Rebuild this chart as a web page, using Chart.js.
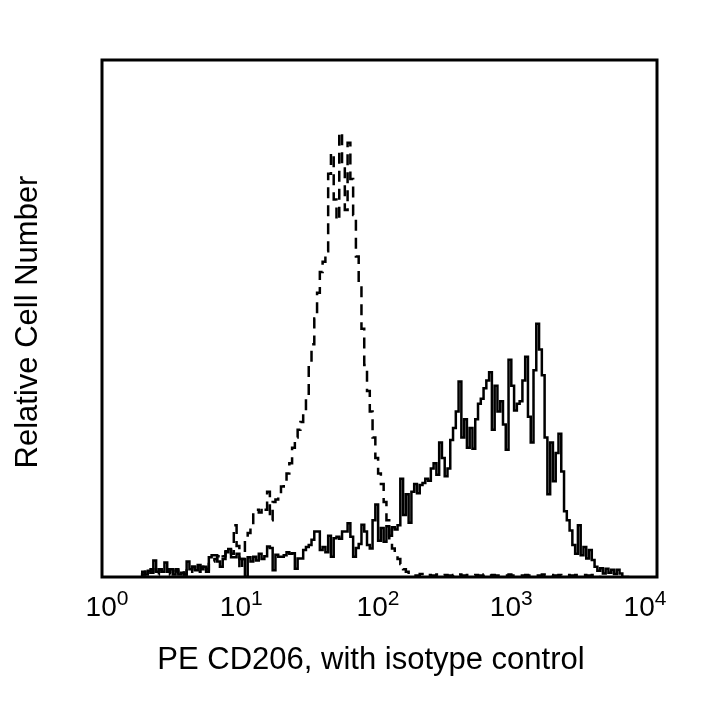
<!DOCTYPE html>
<html>
<head>
<meta charset="utf-8">
<script src="https://cdn.jsdelivr.net/npm/chart.js@4/dist/chart.umd.min.js"></script>
<style>
  body { margin: 0; background: #fff; }
  canvas { display: block; }
</style>
</head>
<body>
<canvas id="histogram" width="720" height="720"></canvas>
<script>
// Histogram channels: 200 channels across 4 log decades (50 per decade)
const startChannel = 14;

// Isotype control (dashed), counts per channel from channel 14
const isotypeCounts = [
  0, 0.5, 1, 0.5, 1.5, 1, 0.5, 1.5, 1, 0.8,
  1.5, 0.5, 1, 1.5, 0.8, 1.2, 0.5, 1.5, 1, 2,
  1.5, 1, 2, 2.5, 1.5, 2.5, 3, 3.5, 4, 4.5,
  4, 5, 5.5, 4.5, 10, 6, 1.5, 3.5, 7.5, 8.5,
  9.5, 13, 13, 12.5, 13.5, 13, 16.5, 11, 14.5, 15,
  15.5, 17.5, 18.5, 20, 22, 25, 27, 28.5, 30, 31.5,
  35, 41, 45, 50, 55, 59, 61, 63, 78, 82,
  73, 69, 86, 79, 71, 84, 77, 70, 62, 56,
  48, 41, 36, 32, 27, 23, 20, 18, 14.5, 11,
  7.5, 5.5, 4.5, 3.5, 2.5, 1.5, 1, 0.5, 0.4, 0.3,
  0.3, 0.6, 0.3, 0.3, 0.4, 0.3, 0.3, 0.5, 0.3, 0.3,
  0.4, 0.3, 0.3, 0.4, 0.3, 0.5, 0.3, 0.3, 0.4, 0.3,
  0.3, 0.4, 0.3, 0.3, 0.5, 0.3, 0.3, 0.4, 0.3, 0.3,
  0.4, 0.3, 0.3, 0.5, 0.3, 0.3, 0.4, 0.3, 0.3, 0.4,
  0.3, 0.3, 0.4, 0.3, 0.3, 0.5, 0.3, 0.3, 0.4, 0.3,
  0.3, 0.4, 0.3, 0.3, 0.4, 0.3, 0.3, 0.4, 0.3, 0.3,
  0.4, 0.3, 0.3, 0.4, 0.3, 0.3, 0
];

// PE CD206 (solid), counts per channel from channel 14
const cd206Counts = [
  0.5, 1, 0.5, 1.2, 0.8, 3.2, 1, 1.5, 1, 2.8,
  1, 1.5, 0.5, 1.2, 0.5, 0.8, 0.5, 3, 1.5, 2,
  1.3, 2.3, 1.5, 2, 1, 3.8, 4.2, 4.2, 3, 2,
  3.5, 4.8, 5.4, 3.8, 3.8, 4.5, 3.5, 3.5, 0, 3.8,
  3, 3.9, 3.2, 4.5, 3.5, 4, 5.9, 5.6, 1.3, 4.3,
  3.9, 3.9, 4.2, 4.8, 4.5, 4.6, 1.6, 3.6, 3.6, 5.2,
  5.8, 6.2, 7.2, 8.8, 8.8, 5.2, 5.8, 4.8, 8, 3.9,
  7.5, 7.8, 7.4, 8.8, 8.8, 10.4, 7.8, 3.9, 5.6, 6.4,
  10.1, 8.8, 6.2, 5.5, 11, 14, 7, 9.5, 6.8, 9.8,
  8, 9.6, 9.2, 10, 19, 12, 16, 10.5, 16.5, 18,
  16.2, 17.8, 18.2, 19, 18.6, 21, 22, 19.8, 26, 23,
  19.5, 21, 26.5, 28.8, 32, 37.8, 27, 30.5, 25, 28.8,
  24.8, 30.5, 33.5, 34.5, 36.5, 38, 39.6, 28.5, 37, 32,
  34, 29.5, 24.6, 42, 37, 32.2, 33.5, 34, 38, 42.6,
  31, 26, 40, 49, 44, 39, 27, 16, 26, 18.5,
  24, 27.7, 20.4, 12.7, 11, 9, 6.2, 4.5, 10, 4.2,
  5.8, 3.6, 5.2, 3.3, 2, 1.2, 1.7, 0.7, 1.6, 0.8,
  1.4, 0.6, 1.4, 0.7, 0, 0, 0
];

const tickChannels = [0, 50, 100, 150, 200];
const tickExponents = ["0", "1", "2", "3", "4"];
const xTitle = "PE CD206, with isotype control";
const yTitle = "Relative Cell Number";

function toPoints(counts) {
  return counts.map((v, i) => ({ x: startChannel + i, y: v }));
}

// Frame, decade labels and axis titles
const framePlugin = {
  id: "frame",
  afterDraw(chart) {
    const ctx = chart.ctx;
    const area = chart.chartArea;
    const xScale = chart.scales.x;
    ctx.save();
    ctx.strokeStyle = "#000";
    ctx.lineWidth = 3;
    ctx.strokeRect(area.left, area.top, area.right - area.left, area.bottom - area.top);

    ctx.fillStyle = "#000";
    ctx.textBaseline = "alphabetic";
    const baseFont = "28px 'Liberation Sans', Arial, sans-serif";
    const expFont = "21px 'Liberation Sans', Arial, sans-serif";
    // decade labels sit slightly inward at the right end, as in the source figure
    const labelShift = [5, 0.5, -1.5, -7, -12];
    tickChannels.forEach((ch, i) => {
      const px = xScale.getPixelForValue(ch) + labelShift[i];
      ctx.font = baseFont;
      const baseW = ctx.measureText("10").width;
      ctx.font = expFont;
      const expW = ctx.measureText(tickExponents[i]).width;
      const x0 = px - (baseW + expW) / 2;
      ctx.textAlign = "left";
      ctx.font = baseFont;
      ctx.fillText("10", x0, 616);
      ctx.font = expFont;
      ctx.fillText(tickExponents[i], x0 + baseW, 604.5);
    });

    ctx.font = "31px 'Liberation Sans', Arial, sans-serif";
    ctx.textAlign = "center";
    ctx.fillText(xTitle, 371, 669);

    ctx.translate(37, 322);
    ctx.rotate(-Math.PI / 2);
    ctx.fillText(yTitle, 0, 0);
    ctx.restore();
  }
};

new Chart(document.getElementById("histogram").getContext("2d"), {
  type: "line",
  data: {
    datasets: [
      {
        label: "Isotype control",
        data: toPoints(isotypeCounts),
        borderColor: "#000",
        borderWidth: 2.5,
        borderDash: [11, 7],
        stepped: "middle",
        pointRadius: 0,
        fill: false
      },
      {
        label: "PE CD206",
        data: toPoints(cd206Counts),
        borderColor: "#000",
        borderWidth: 2.5,
        stepped: "middle",
        pointRadius: 0,
        fill: false
      }
    ]
  },
  options: {
    responsive: false,
    animation: false,
    layout: { padding: { left: 102, right: 63, top: 60, bottom: 143 } },
    scales: {
      x: { type: "linear", min: 0, max: 200, display: false },
      y: { min: 0, max: 100, display: false }
    },
    plugins: {
      legend: { display: false },
      tooltip: { enabled: false }
    }
  },
  plugins: [framePlugin]
});
</script>
</body>
</html>
